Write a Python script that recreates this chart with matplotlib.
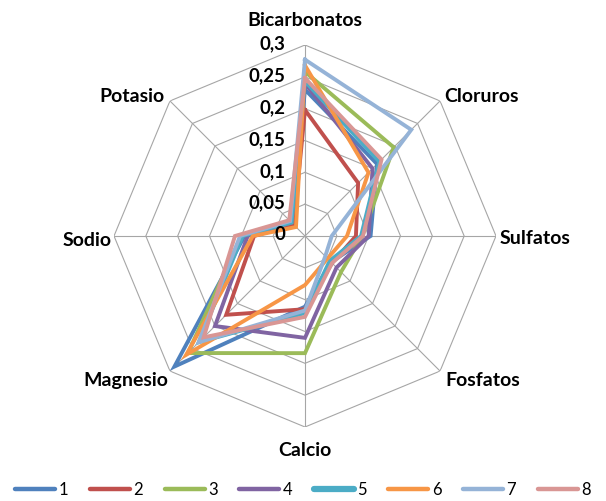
import numpy as np
import matplotlib
matplotlib.use("Agg")
import matplotlib.pyplot as plt
from matplotlib.lines import Line2D

categories = ["Bicarbonatos", "Cloruros", "Sulfatos", "Fosfatos",
              "Calcio", "Magnesio", "Sodio", "Potasio"]
series_names = ["1", "2", "3", "4", "5", "6", "7", "8"]
s1 = [0.230, 0.160, 0.103, 0.058, 0.111, 0.290, 0.095, 0.030]
s2 = [0.198, 0.118, 0.080, 0.060, 0.115, 0.175, 0.080, 0.025]
s3 = [0.258, 0.197, 0.090, 0.080, 0.184, 0.260, 0.100, 0.030]
s4 = [0.240, 0.150, 0.100, 0.070, 0.160, 0.200, 0.090, 0.030]
s5 = [0.243, 0.165, 0.088, 0.055, 0.121, 0.236, 0.098, 0.030]
s6 = [0.268, 0.141, 0.066, 0.050, 0.077, 0.264, 0.082, 0.020]
s7 = [0.277, 0.236, 0.042, 0.045, 0.117, 0.236, 0.102, 0.033]
s8 = [0.248, 0.170, 0.091, 0.060, 0.127, 0.225, 0.110, 0.035]
tick_values = [0, 0.05, 0.1, 0.15, 0.2, 0.25, 0.3]
tick_labels = ["0", "0,05", "0,1", "0,15", "0,2", "0,25", "0,3"]

all_series = [s1, s2, s3, s4, s5, s6, s7, s8]
colors = ["#4F81BD", "#C0504D", "#9BBB59", "#8064A2",
          "#4BACC6", "#F79646", "#95B3D7", "#D99694"]

FONT = ["Lato", "DejaVu Sans"]

fig = plt.figure(figsize=(6.06, 5.01), dpi=100)
ax = fig.add_axes([114 / 606, 74 / 501, 382 / 606, 382 / 501], projection="polar")
ax.set_theta_zero_location("N")
ax.set_theta_direction(-1)
ax.set_ylim(0, 0.3)
ax.axis("off")

n = len(categories)
angles = np.arange(n) * 2 * np.pi / n
closed = np.concatenate([angles, angles[:1]])

grid_color = "#A6A6A6"
for r in tick_values[1:]:
    ax.plot(closed, [r] * (n + 1), color=grid_color, lw=0.8, zorder=1)
for a in angles:
    ax.plot([a, a], [0, 0.3], color=grid_color, lw=0.8, zorder=1)

for vals, c in zip(all_series, colors):
    v = list(vals) + [vals[0]]
    ax.plot(closed, v, color=c, lw=2.8, zorder=3, solid_joinstyle="miter")

for v, lab in zip(tick_values, tick_labels):
    ax.annotate(lab, xy=(0, v), xytext=(-20, 1), textcoords="offset pixels",
                ha="right", va="center", fontsize=13.5, fontweight="bold",
                family=FONT, zorder=5)

label_cfg = [
    ((0, 25), "center", "center"),
    ((4, 4), "left", "center"),
    ((4, -2), "left", "center"),
    ((5, -9), "left", "center"),
    ((0, -23), "center", "center"),
    ((-2, -9), "right", "center"),
    ((-2, -4), "right", "center"),
    ((-5, 4), "right", "center"),
]
for a, cat, (off, ha, va) in zip(angles, categories, label_cfg):
    ax.annotate(cat, xy=(a, 0.3), xytext=off, textcoords="offset pixels",
                ha=ha, va=va, fontsize=14, fontweight="bold", family=FONT)

handles = [Line2D([0], [0], color=c, lw=3.2 if i != 4 else 4.5,
                  solid_capstyle="round")
           for i, c in enumerate(colors)]
fig.legend(handles, series_names, loc="center", bbox_to_anchor=(0.5, 11 / 501),
           ncol=8, frameon=False, handlelength=2.4, handletextpad=0.2,
           columnspacing=1.3, prop={"family": FONT, "size": 12})

fig.savefig("out.png", dpi=100)
